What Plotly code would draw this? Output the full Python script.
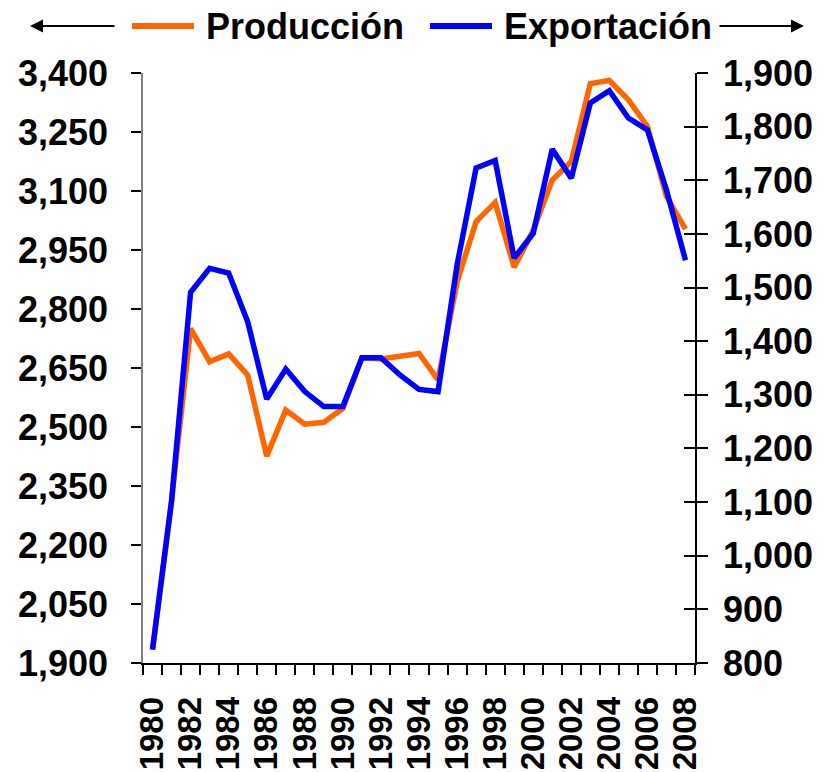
import plotly.graph_objects as go

years = [1980, 1981, 1982, 1983, 1984, 1985, 1986, 1987, 1988, 1989,
         1990, 1991, 1992, 1993, 1994, 1995, 1996, 1997, 1998, 1999,
         2000, 2001, 2002, 2003, 2004, 2005, 2006, 2007, 2008]
produccion = [1934, 2312, 2750, 2666, 2686, 2632, 2426, 2543, 2507, 2512,
              2547, 2676, 2673, 2679, 2687, 2620, 2869, 3022, 3071, 2906,
              3000, 3128, 3175, 3373, 3381, 3332, 3264, 3086, 3003]
exportacion = [825, 1102, 1491, 1536, 1527, 1436, 1292, 1348, 1306, 1278,
               1278, 1369, 1369, 1337, 1310, 1306, 1542, 1723, 1737, 1555,
               1601, 1758, 1704, 1844, 1867, 1816, 1794, 1682, 1551]
series_names = ["Producción", "Exportación"]
x_ticks = [1980, 1982, 1984, 1986, 1988, 1990, 1992, 1994, 1996, 1998,
           2000, 2002, 2004, 2006, 2008]
left_range = [1900, 3400]
left_step = 150
right_range = [800, 1900]
right_step = 100

ORANGE = "#FF6600"
BLUE = "#0000FF"
FONT = "Liberation Sans, Arial, sans-serif"

W, H = 830, 772
ML, MR, MT, MB = 143, 135, 73, 109
PW = W - ML - MR
PH = H - MT - MB


def px_x(px):
    return (px - ML) / PW


def px_y(py):
    return (H - MB - py) / PH


fig = go.Figure()
fig.add_trace(go.Scatter(x=years, y=produccion, name=series_names[0], mode="lines",
                         line=dict(color=ORANGE, width=5.5), yaxis="y"))
fig.add_trace(go.Scatter(x=years, y=exportacion, name=series_names[1], mode="lines",
                         line=dict(color=BLUE, width=5.5), yaxis="y2"))

tickfont = dict(family=FONT, size=36, color="black", weight="bold")

fig.update_layout(
    width=W, height=H,
    margin=dict(l=ML, r=MR, t=MT, b=MB, autoexpand=False),
    paper_bgcolor="white", plot_bgcolor="white",
    showlegend=False,
    xaxis=dict(
        range=[years[0] - 0.5, years[-1] + 0.5],
        tickmode="array", tickvals=x_ticks, ticktext=[str(v) for v in x_ticks],
        tickangle=-90, ticks="", ticklabelstandoff=19,
        tickfont=dict(family=FONT, size=33, color="black", weight="bold"),
        minor=dict(ticks="outside", tick0=years[0] - 0.5, dtick=1, ticklen=10,
                   tickcolor="black", tickwidth=1.5),
        showline=True, linecolor="black", linewidth=1.5,
        showgrid=False, zeroline=False, automargin=False,
    ),
    yaxis=dict(
        range=left_range, dtick=left_step, tick0=left_range[0], tickformat=",",
        ticks="outside", ticklen=10, tickcolor="black", tickwidth=1.5,
        ticklabelstandoff=16,
        tickfont=tickfont,
        showline=True, linecolor="#808080", linewidth=1.5,
        showgrid=False, zeroline=False, automargin=False,
    ),
    yaxis2=dict(
        range=right_range, dtick=right_step, tick0=right_range[0], tickformat=",",
        overlaying="y", side="right",
        ticks="outside", ticklen=11, tickcolor="black", tickwidth=1.5,
        ticklabelstandoff=8,
        tickfont=tickfont,
        showline=True, linecolor="black", linewidth=1.5,
        showgrid=False, zeroline=False, automargin=False,
    ),
    yaxis3=dict(
        range=right_range, dtick=right_step, tick0=right_range[0],
        overlaying="y", side="right",
        ticks="inside", ticklen=11, tickcolor="black", tickwidth=1.5,
        showticklabels=False, showline=False,
        showgrid=False, zeroline=False, automargin=False,
    ),
)
# invisible helper trace so the inside-tick axis (y3) is drawn
fig.add_trace(go.Scatter(x=[years[0]], y=[right_range[0]], yaxis="y3", mode="markers",
                         marker=dict(opacity=0), hoverinfo="skip", showlegend=False))

# custom legend
ly = px_y(26)
legend_font = dict(family=FONT, size=36, color="black", weight="bold")
for (x0, x1, tx, color, name) in [(132, 194, 204, ORANGE, series_names[0]),
                                  (430, 492, 502, BLUE, series_names[1])]:
    fig.add_shape(type="line", xref="paper", yref="paper",
                  x0=px_x(x0), x1=px_x(x1), y0=ly, y1=ly,
                  line=dict(color=color, width=6))
    fig.add_annotation(xref="paper", yref="paper", x=px_x(tx), y=ly, text=name,
                       showarrow=False, xanchor="left", yanchor="middle",
                       font=legend_font)

# direction arrows
fig.add_annotation(xref="paper", yref="paper", x=px_x(30), y=ly, text="",
                   showarrow=True, ax=86, ay=0, arrowhead=2, arrowsize=1.3,
                   arrowwidth=2, arrowcolor="black")
fig.add_annotation(xref="paper", yref="paper", x=px_x(804), y=ly, text="",
                   showarrow=True, ax=-86, ay=0, arrowhead=2, arrowsize=1.3,
                   arrowwidth=2, arrowcolor="black")

fig.write_html("out.html", config={"displayModeBar": False},
               post_script="document.body.style.margin='0';document.body.style.overflow='hidden';")
